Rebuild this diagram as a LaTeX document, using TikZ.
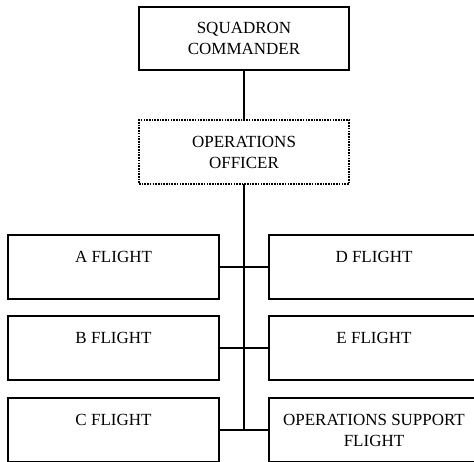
\documentclass[tikz,border=0pt]{standalone}
\usepackage{fontspec}
\setmainfont{Liberation Serif}
\begin{document}
\begin{tikzpicture}[x=1pt,y=-1pt,
  box/.style={draw,line width=1.9pt,rectangle,inner sep=0pt,outer sep=0pt,align=center,
    font=\fontsize{17}{21}\selectfont},
  topbox/.style={box,minimum width=210pt,minimum height=63pt},
  flightbox/.style={box,minimum width=210pt,minimum height=63.5pt},
  dottedbox/.style={topbox,dash pattern=on 1.6pt off 1.1pt,line width=1.6pt},
  conn/.style={line width=1.9pt}]
\useasboundingbox (0,0) rectangle (474,461);
\clip (0,0) rectangle (474,461);
\node[topbox] (cmd) at (244,38.5) {SQUADRON\\COMMANDER};
\node[dottedbox,minimum height=64pt] (ops) at (244,152) {OPERATIONS\\OFFICER};
\node[flightbox,minimum width=211pt] (a) at (113.5,267) {A FLIGHT\\\phantom{FLIGHT}};
\node[flightbox,minimum width=211pt] (b) at (113.5,348) {B FLIGHT\\\phantom{FLIGHT}};
\node[flightbox,minimum width=211pt] (c) at (113.5,430) {C FLIGHT\\\phantom{FLIGHT}};
\node[flightbox] (d) at (374,267) {D FLIGHT\\\phantom{FLIGHT}};
\node[flightbox] (e) at (374,348) {E FLIGHT\\\phantom{FLIGHT}};
\node[flightbox] (f) at (374,430) {OPERATIONS SUPPORT\\FLIGHT};
\draw[conn] (cmd.south) -- (ops.north);
\draw[conn] (ops.south) -- (ops.south |- c.east);
\draw[conn] (a.east) -- (d.west);
\draw[conn] (b.east) -- (e.west);
\draw[conn] (c.east) -- (f.west);
\end{tikzpicture}
\end{document}
